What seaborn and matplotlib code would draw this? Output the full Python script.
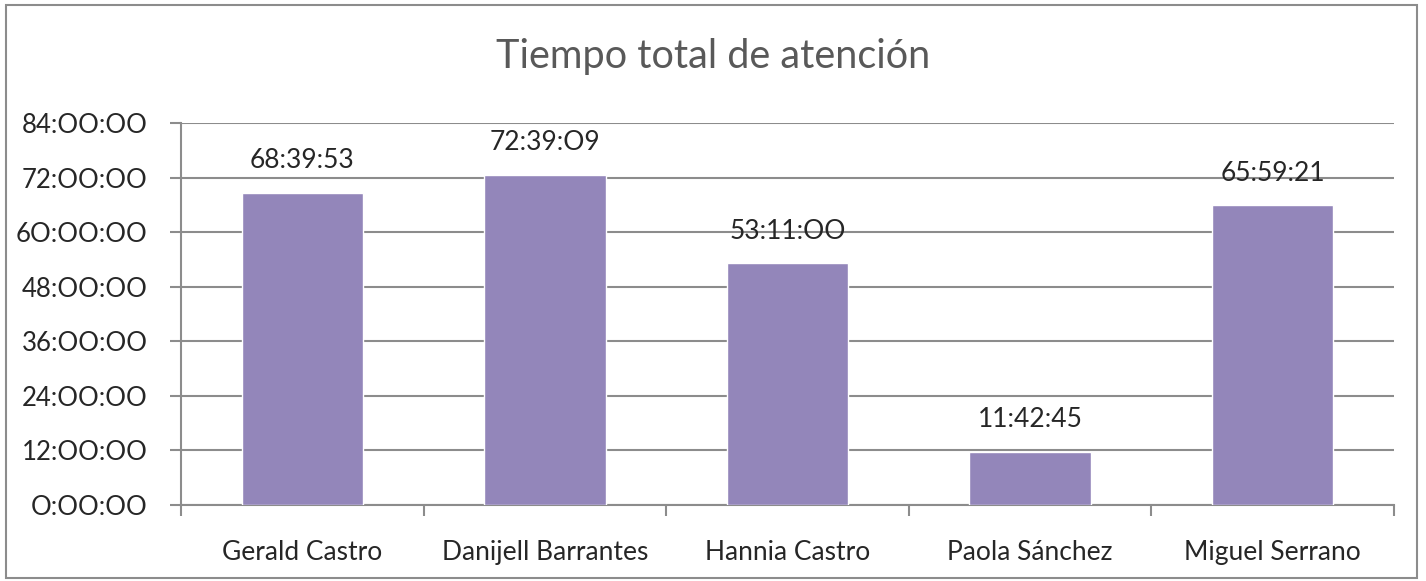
import pandas as pd
import matplotlib.pyplot as plt
import seaborn as sns
from matplotlib.patches import Rectangle
from matplotlib.ticker import FuncFormatter, MultipleLocator

# Data: total attention time per agent (h:mm:ss)
agents = ["Gerald Castro", "Danijell Barrantes", "Hannia Castro", "Paola Sánchez", "Miguel Serrano"]
times = ["68:39:53", "72:39:09", "53:11:00", "11:42:45", "65:59:21"]


def to_hours(t):
    h, m, s = [int(p) for p in t.split(":")]
    return h + m / 60 + s / 3600


df = pd.DataFrame({"agent": agents, "label": times})
df["hours"] = df["label"].apply(to_hours)

sns.set_style("white")
plt.rcParams["font.family"] = ["Lato", "DejaVu Sans"]

grey = "#8c8c8c"
fig = plt.figure(figsize=(14.26, 5.81), dpi=100)
ax = fig.add_axes([0.127, 0.1308, 0.8505, 0.6575])

sns.barplot(data=df, x="agent", y="hours", color="#9386ba", width=0.5,
            saturation=1, ax=ax, zorder=3)

ax.set_xlim(-0.5, 4.5)
ax.set_ylim(0, 84)
ax.yaxis.set_major_locator(MultipleLocator(12))
ax.yaxis.set_major_formatter(FuncFormatter(lambda v, p: f"{int(v)}:00:00".replace("0", "O")))
ax.grid(axis="y", color=grey, linewidth=1.5, zorder=0)
ax.set_axisbelow(True)

for sp in ["top", "right"]:
    ax.spines[sp].set_visible(False)
for sp in ["left", "bottom"]:
    ax.spines[sp].set_color(grey)
    ax.spines[sp].set_linewidth(1.5)

ax.tick_params(axis="y", length=8, width=1.5, color=grey, pad=16, labelsize=18.5, left=True)
ax.set_xticks(range(len(agents)))
ax.set_xticklabels(agents)
ax.tick_params(axis="x", which="major", length=0, pad=25, labelsize=19)
ax.set_xticks([i - 0.5 for i in range(len(agents) + 1)], minor=True)
ax.tick_params(axis="x", which="minor", length=8, width=1.5, color=grey, bottom=True)
ax.set_xlabel("")
ax.set_ylabel("")

for i, row in df.iterrows():
    ax.text(i, row["hours"] + 7, row["label"].replace("0", "O"), ha="center", va="center",
            fontsize=19, zorder=4)

fig.text(0.5, 0.902, "Tiempo total de atención", ha="center", va="center",
         fontsize=28.5, color="#595959")

fig.patches.append(Rectangle((0.004, 0.006), 0.99, 0.986, transform=fig.transFigure,
                             fill=False, edgecolor=grey, linewidth=1.5))

fig.savefig("out.png", dpi=100)
